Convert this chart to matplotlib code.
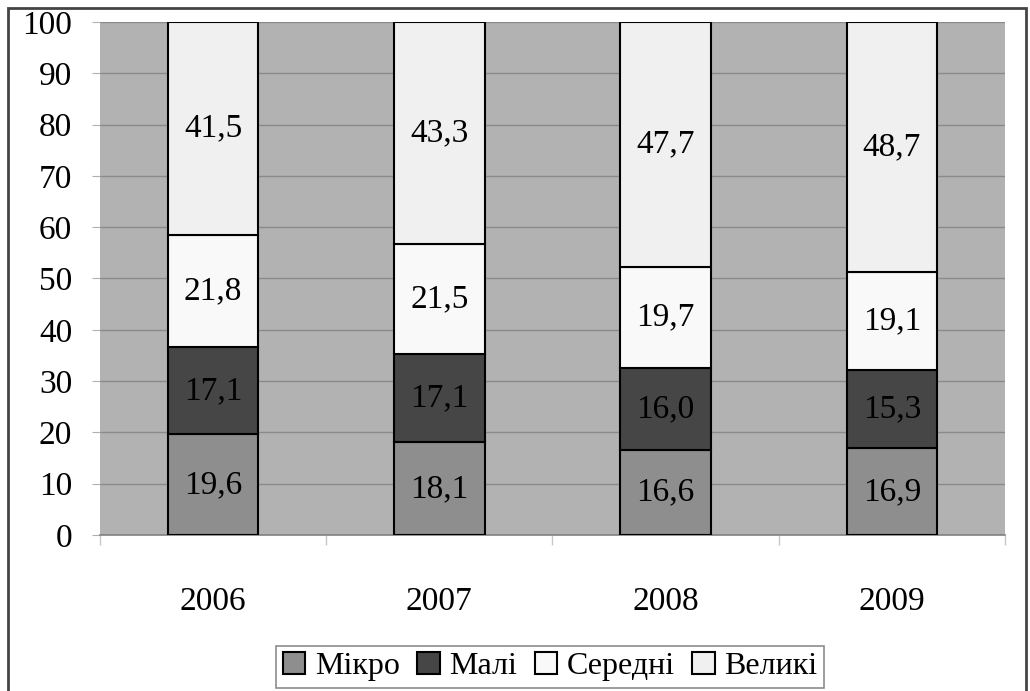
import matplotlib.pyplot as plt
import matplotlib.patches as mpatches
import numpy as np

plt.rcParams['font.family'] = ['Liberation Serif', 'DejaVu Serif']

# data (shares, %)
years = ["2006", "2007", "2008", "2009"]
series_names = ["Мікро", "Малі", "Середні", "Великі"]
micro = [19.6, 18.1, 16.6, 16.9]
small = [17.1, 17.1, 16.0, 15.3]
medium = [21.8, 21.5, 19.7, 19.1]
large = [41.5, 43.3, 47.7, 48.7]
colors = ["#8e8e8e", "#464646", "#f9f9f9", "#f0f0f0"]

fig = plt.figure(figsize=(10.30, 6.91), dpi=100)
ax = fig.add_axes([0.097, 0.2258, 0.8787, 0.7424])
ax.set_facecolor("#b2b2b2")

x = np.arange(len(years))
bottom = np.zeros(len(years))
for name, vals, col in zip(series_names, [micro, small, medium, large], colors):
    bars = ax.bar(x, vals, width=0.4, bottom=bottom, color=col,
                  edgecolor="black", linewidth=1.5, label=name, zorder=3)
    for xi, b, v in zip(x, bottom, vals):
        ax.text(xi, b + v / 2, f"{v:.1f}".replace(".", ","), ha="center",
                va="center", fontsize=24, zorder=4)
    bottom += vals

ax.set_xlim(-0.5, 3.5)
ax.set_ylim(0, 100)
ax.set_yticks(range(0, 101, 10))
ax.yaxis.grid(True, color="#8a8a8a", linewidth=1, zorder=0)
ax.set_axisbelow(True)
ax.set_xticks(x)
ax.set_xticklabels(years)
ax.set_xticks(np.arange(-0.5, 4, 1), minor=True)
ax.tick_params(axis="x", which="major", length=0, pad=37, labelsize=24)
ax.tick_params(axis="x", which="minor", length=7, color="#c8c8c8", width=1)
ax.tick_params(axis="y", length=6, color="#b0b0b0", labelsize=24, pad=14)

for side in ["top", "right", "left"]:
    ax.spines[side].set_visible(False)
ax.spines["bottom"].set_color("#808080")
ax.spines["bottom"].set_linewidth(1.2)

# outer frame of the picture
fig.patches.append(mpatches.Rectangle((8 / 1030, -0.05), 1018 / 1030, 1.05 - 8 / 691,
                                      transform=fig.transFigure, fill=False,
                                      edgecolor="#444444", linewidth=2))

leg = fig.legend(loc="center", bbox_to_anchor=(0.534, 0.035), ncol=4, fontsize=23,
                 frameon=True, fancybox=False, edgecolor="#707070",
                 handlelength=0.7, handleheight=0.7, handletextpad=0.3,
                 columnspacing=0.55, borderpad=0.2, borderaxespad=0)
leg.get_frame().set_linewidth(1.2)

fig.savefig("out.png", dpi=100)
